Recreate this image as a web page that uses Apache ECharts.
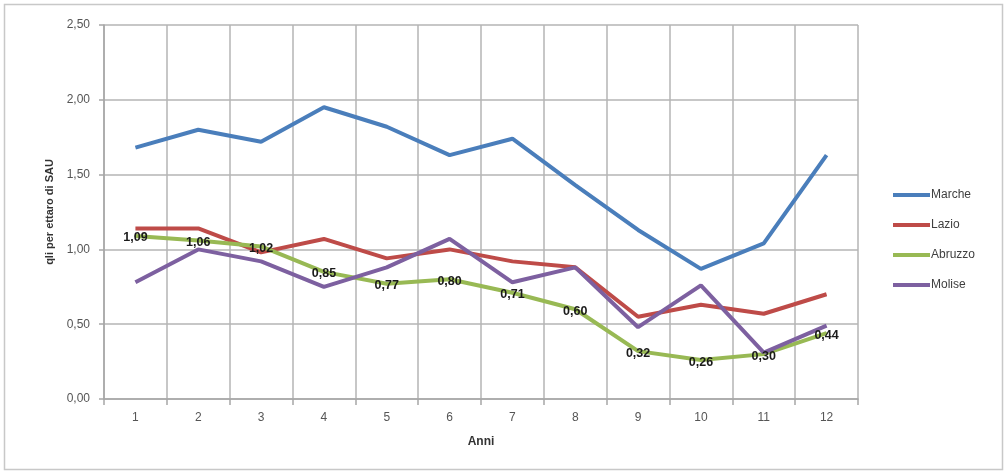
<!DOCTYPE html>
<html><head><meta charset="utf-8">
<script src="https://cdn.jsdelivr.net/npm/echarts@6/dist/echarts.min.js"></script>
<style>html,body{margin:0;padding:0;background:#fff}#c{width:1008px;height:472px}</style>
</head><body><div id="c"></div>
<script>
var categories = ['1','2','3','4','5','6','7','8','9','10','11','12'];
var marche  = [1.68,1.80,1.72,1.95,1.82,1.63,1.74,1.43,1.13,0.87,1.04,1.63];
var lazio   = [1.14,1.14,0.98,1.07,0.94,1.00,0.92,0.88,0.55,0.63,0.57,0.70];
var abruzzo = [1.09,1.06,1.02,0.85,0.77,0.80,0.71,0.60,0.32,0.26,0.30,0.44];
var molise  = [0.78,1.00,0.92,0.75,0.88,1.07,0.78,0.88,0.48,0.76,0.31,0.49];
var seriesNames = ['Marche','Lazio','Abruzzo','Molise'];
var colors = ['#4a7ebb','#be4b48','#98b954','#7d60a0'];

function fmt(v){ return Number(v).toFixed(2).replace('.', ','); }
function mk(name, data, color, labels){
  var s = {name:name, type:'line', data:data, symbol:'none', smooth:false,
    lineStyle:{color:color, width:4}, itemStyle:{color:color}, z: 2};
  if (labels) {
    s.symbol = 'circle'; s.symbolSize = 2; s.showSymbol = true;
    s.label = {show:true, position:'inside', offset:[0,2], color:'#1a1a1a', fontWeight:'bold',
      fontSize:12.5, fontFamily:'Liberation Sans, Arial, sans-serif',
      formatter:function(p){return fmt(p.value);}};
    s.emphasis = {disabled:true};
  }
  return s;
}
var chart = echarts.init(document.getElementById('c'), null, {renderer:'canvas'});
chart.setOption({
  animation:false,
  backgroundColor:'#fff',
  graphic:[{type:'rect', shape:{x:4.5,y:4.5,width:998,height:465}, style:{fill:'none', stroke:'#c8c8c8', lineWidth:1.5}, silent:true}],
  grid:{left:104, right:150, top:25, bottom:73},
  legend:{orient:'vertical', left:888, top:184, itemWidth:37, itemHeight:4, itemGap:18,
    icon:'rect', textStyle:{color:'#404040', fontSize:12, padding:[0,0,0,-4], fontFamily:'Liberation Sans, Arial, sans-serif'},
    data:seriesNames},
  xAxis:{type:'category', data:categories, boundaryGap:true,
    name:'Anni', nameLocation:'middle', nameGap:37,
    nameTextStyle:{color:'#333', fontSize:12, fontWeight:'bold', fontFamily:'Liberation Sans, Arial, sans-serif'},
    axisLine:{lineStyle:{color:'#a6a6a6', width:1.5}},
    axisTick:{show:true, length:6, lineStyle:{color:'#a6a6a6', width:1.5}},
    axisLabel:{color:'#555', fontSize:12, margin:13, fontFamily:'Liberation Sans, Arial, sans-serif'},
    splitLine:{show:true, lineStyle:{color:'#b4b4b4', width:1.5}}},
  yAxis:{type:'value', min:0, max:2.5, interval:0.5,
    name:'qli per ettaro di SAU', nameLocation:'middle', nameGap:44, nameRotate:90,
    nameTextStyle:{color:'#333', fontSize:11, fontWeight:'bold', fontFamily:'Liberation Sans, Arial, sans-serif'},
    axisLine:{show:true, lineStyle:{color:'#a6a6a6', width:1.5}},
    axisTick:{show:true, length:5, lineStyle:{color:'#a6a6a6', width:1.5}},
    axisLabel:{color:'#555', fontSize:12, margin:14, formatter:function(v){return fmt(v);}, fontFamily:'Liberation Sans, Arial, sans-serif'},
    splitLine:{show:true, lineStyle:{color:'#b4b4b4', width:1.5}}},
  series:[
    mk('Marche', marche, colors[0], false),
    mk('Lazio', lazio, colors[1], false),
    mk('Abruzzo', abruzzo, colors[2], true),
    mk('Molise', molise, colors[3], false)
  ]
});
</script></body></html>
